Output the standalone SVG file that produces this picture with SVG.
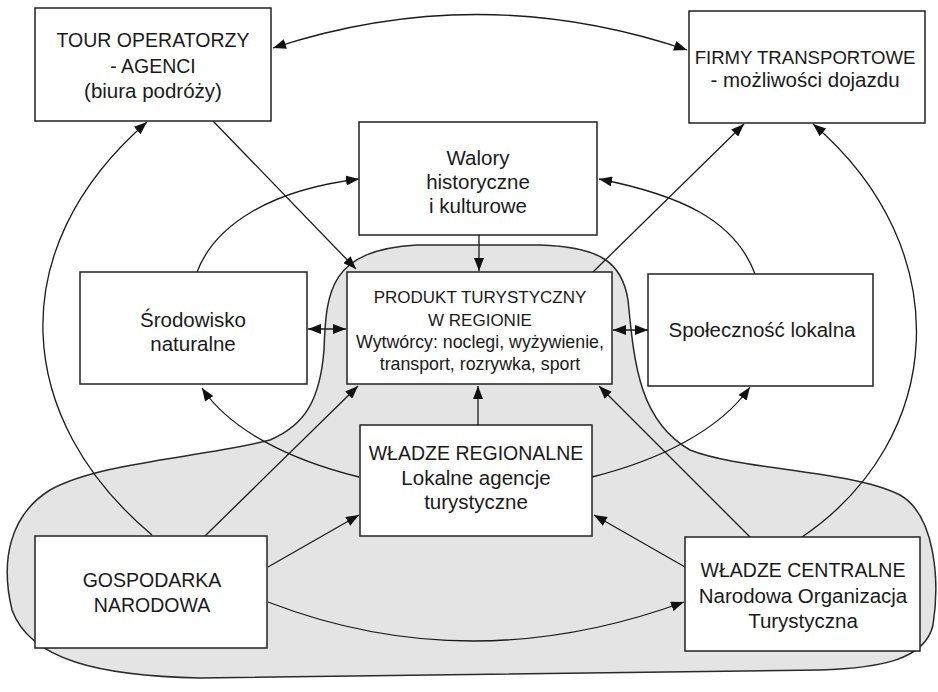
<svg xmlns="http://www.w3.org/2000/svg" width="938" height="692" viewBox="0 0 938 692">
<defs>
<marker id="ah" markerUnits="userSpaceOnUse" markerWidth="14" markerHeight="10" refX="13" refY="5" orient="auto-start-reverse">
<path d="M0,0 L13,5 L0,10 z" fill="#111"/>
</marker>
<style>
.box{fill:#fff;stroke:#222;stroke-width:1.5}
.c{fill:none;stroke:#1a1a1a;stroke-width:1.3}
.a{marker-end:url(#ah)}
.b{marker-start:url(#ah);marker-end:url(#ah)}
text{font-family:"Liberation Sans",Arial,Helvetica,sans-serif;fill:#1a1a1a;text-anchor:middle}
.cap{font-size:19.5px}
.capn{font-size:18.6px}
.low{font-size:20.5px}
.pc{font-size:17px}
.pl{font-size:17.8px}
</style>
</defs>
<rect width="938" height="692" fill="#fff"/>
<g id="region-area">
<path d="M417,245 L540,245 C600,247 622,262 628,300 C634,360 638,420 690,450 C740,470 850,470 900,495 C935,515 940,580 933,625 C925,660 880,668 820,670 L200,678 C100,676 30,660 12,610 C0,560 10,515 50,490 C100,462 200,458 270,440 C305,425 320,400 324,350 C326,290 330,250 417,245 Z" fill="#e4e4e4" stroke="#2a2a2a" stroke-width="1.5"/>
</g>
<g id="connectors">
<path class="c b" d="M273,48 Q480,-20 687,50"/>
<path class="c a" d="M213,121 L356,269"/>
<path class="c a" d="M152,535 C15,420 0,250 147,122"/>
<path class="c a" d="M205,536 L358,386"/>
<path class="c a" d="M268,567 L359,515"/>
<path class="c a" d="M268,602 Q470,680 684,602"/>
<path class="c a" d="M685,567 L594,515"/>
<path class="c a" d="M750,537 L599,386"/>
<path class="c a" d="M802,537 C945,440 960,250 813,124"/>
<path class="c a" d="M197,272 C215,225 270,190 359,179"/>
<path class="c a" d="M479,235 L479,271"/>
<path class="c a" d="M593,272 L744,124"/>
<path class="c a" d="M755,274 C735,220 680,195 599,179"/>
<path class="c b" d="M308,329 L346,329"/>
<path class="c b" d="M613,330 L648,330"/>
<path class="c a" d="M478,425 L478,386"/>
<path class="c a" d="M359,477 C290,460 230,430 202,388"/>
<path class="c a" d="M592,477 C660,460 720,430 750,387"/>
</g>
<g id="tour-operatorzy">
<rect class="box" x="35" y="8" width="236" height="113"/>
<text class="cap" x="153" y="47">TOUR OPERATORZY</text>
<text class="cap" x="153" y="73">- AGENCI</text>
<text class="low" x="153" y="98">(biura podróży)</text>
</g>
<g id="firmy-transportowe">
<rect class="box" x="689" y="11" width="236" height="112"/>
<text class="capn" x="805" y="64">FIRMY TRANSPORTOWE</text>
<text class="low" x="805" y="87">- możliwości dojazdu</text>
</g>
<g id="walory">
<rect class="box" x="359" y="122" width="238" height="113"/>
<text class="low" x="478" y="165">Walory</text>
<text class="low" x="478" y="189">historyczne</text>
<text class="low" x="478" y="213">i kulturowe</text>
</g>
<g id="srodowisko">
<rect class="box" x="80" y="272" width="227" height="112"/>
<text class="low" x="193" y="327">Środowisko</text>
<text class="low" x="193" y="351">naturalne</text>
</g>
<g id="produkt">
<rect class="box" x="347" y="272" width="265" height="112"/>
<text class="pc" x="480" y="303">PRODUKT TURYSTYCZNY</text>
<text class="pc" x="480" y="326">W REGIONIE</text>
<text class="pl" x="480" y="348">Wytwórcy: noclegi, wyżywienie,</text>
<text class="pl" x="480" y="370">transport, rozrywka, sport</text>
</g>
<g id="spolecznosc">
<rect class="box" x="648" y="274" width="225" height="112"/>
<text class="low" x="762" y="337">Społeczność lokalna</text>
</g>
<g id="wladze-regionalne">
<rect class="box" x="360" y="425" width="232" height="111"/>
<text class="cap" x="476" y="460">WŁADZE REGIONALNE</text>
<text class="low" x="476" y="485">Lokalne agencje</text>
<text class="low" x="476" y="509">turystyczne</text>
</g>
<g id="gospodarka">
<rect class="box" x="35" y="536" width="232" height="112"/>
<text class="cap" x="152" y="587">GOSPODARKA</text>
<text class="cap" x="152" y="612">NARODOWA</text>
</g>
<g id="wladze-centralne">
<rect class="box" x="685" y="537" width="235" height="114"/>
<text class="cap" x="803" y="577">WŁADZE CENTRALNE</text>
<text class="low" x="803" y="603">Narodowa Organizacja</text>
<text class="low" x="803" y="628">Turystyczna</text>
</g>
</svg>
